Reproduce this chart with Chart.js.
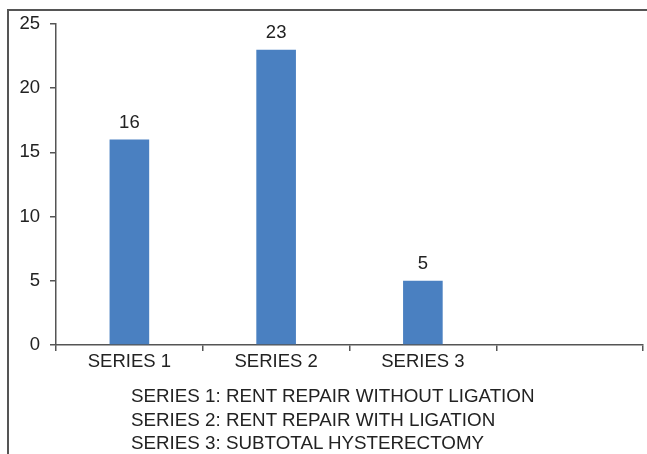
<!DOCTYPE html>
<html><head><meta charset="utf-8">
<script src="https://cdn.jsdelivr.net/npm/chart.js@4/dist/chart.umd.min.js"></script>
<style>
html,body{margin:0;padding:0;background:#fff;overflow:hidden;}
#wrap{position:relative;width:647px;height:454px;overflow:hidden;}
canvas{position:absolute;left:0;top:0;}
#notes{position:absolute;left:131px;top:384px;font-family:"Liberation Sans",Arial,sans-serif;font-size:18.8px;line-height:23.5px;color:#222;white-space:nowrap;}
</style></head>
<body><div id="wrap"><canvas id="c" width="647" height="454"></canvas>
<div id="notes"></div></div>
<script>
const categories = ["SERIES 1", "SERIES 2", "SERIES 3", ""];
const values = [16, 23, 5, null];
const yTicks = [0, 5, 10, 15, 20, 25];
const notes = [
  "SERIES 1: RENT REPAIR WITHOUT LIGATION",
  "SERIES 2: RENT REPAIR WITH LIGATION",
  "SERIES 3: SUBTOTAL HYSTERECTOMY"
];
document.getElementById('notes').innerHTML = notes.map(n => '<div>' + n + '</div>').join('');

const FONT = '"Liberation Sans", Arial, sans-serif';
const framePlugin = {
  id: 'frame',
  beforeDraw(chart) {
    const ctx = chart.ctx;
    ctx.save();
    ctx.strokeStyle = '#555';
    ctx.lineWidth = 2;
    ctx.beginPath();
    ctx.moveTo(8, chart.height);
    ctx.lineTo(8, 10);
    ctx.lineTo(chart.width, 10);
    ctx.stroke();
    ctx.restore();
  }
};
const labelPlugin = {
  id: 'valueLabels',
  afterDatasetsDraw(chart) {
    const ctx = chart.ctx;
    const meta = chart.getDatasetMeta(0);
    ctx.save();
    ctx.font = '18.5px ' + FONT;
    ctx.fillStyle = '#222';
    ctx.textAlign = 'center';
    ctx.textBaseline = 'alphabetic';
    meta.data.forEach((bar, i) => {
      if (values[i] == null) return;
      ctx.fillText(String(values[i]), bar.x, bar.y - 12);
    });
    ctx.restore();
  }
};

new Chart(document.getElementById('c'), {
  type: 'bar',
  data: {
    labels: categories,
    datasets: [{
      data: values,
      backgroundColor: '#4a80c1',
      borderWidth: 0,
      categoryPercentage: 0.27,
      barPercentage: 1
    }]
  },
  options: {
    responsive: false,
    animation: false,
    devicePixelRatio: 1,
    layout: { padding: { left: 0, right: 4, top: 24, bottom: 0 } },
    plugins: { legend: { display: false }, tooltip: { enabled: false } },
    scales: {
      x: {
        grid: { display: true, drawOnChartArea: false, drawTicks: true, tickLength: 6, color: '#555', lineWidth: 1.5, offset: true },
        border: { display: true, color: '#555', width: 1.5 },
        ticks: { color: '#222', font: { family: FONT, size: 18.5 }, padding: 0, maxRotation: 0 },
        afterFit(s) { s.height = 109; }
      },
      y: {
        min: 0, max: 25,
        afterBuildTicks(s) { s.ticks = yTicks.map(v => ({ value: v })); },
        grid: { display: true, drawOnChartArea: false, drawTicks: true, tickLength: 6, color: '#555', lineWidth: 1.5 },
        border: { display: true, color: '#555', width: 1.5 },
        ticks: { color: '#222', font: { family: FONT, size: 18.5 }, padding: 10 },
        afterFit(s) { s.width = 56; }
      }
    }
  },
  plugins: [framePlugin, labelPlugin]
});
</script></body></html>
